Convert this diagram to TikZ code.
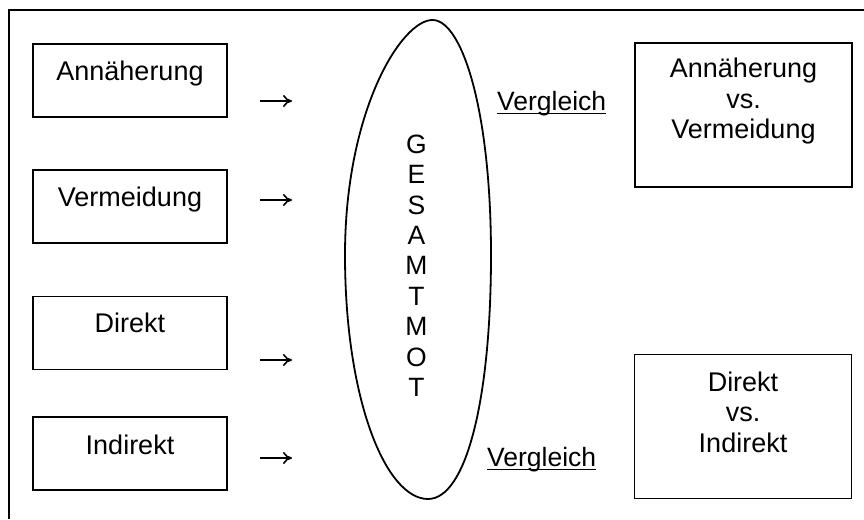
\documentclass[tikz,border=0pt]{standalone}
\usepackage{fontspec}
\setmainfont{Liberation Sans}
\usetikzlibrary{arrows.meta}
\tikzset{
  box/.style={draw=black, line width=1.6pt, minimum width=194pt, minimum height=73pt, inner sep=0pt},
  bigbox/.style={draw=black, line width=1.6pt, minimum width=217pt, minimum height=144pt, inner sep=0pt},
  lbl/.style={inner sep=0pt, anchor=north, align=center, font=\fontsize{27}{30.5}\selectfont},
  vgl/.style={inner sep=0pt, anchor=base west, font=\fontsize{26.5}{30.5}\selectfont},
  arr/.style={line width=1.6pt, -{Computer Modern Rightarrow[length=9pt,width=12pt]}},
  frame/.style={line width=2pt},
  ell/.style={line width=1.8pt}
}
\begin{document}
\begin{tikzpicture}[x=1pt,y=-1pt]
\useasboundingbox (0,0) rectangle (864,519);
% frame (top and left edges)
\coordinate (fTL) at (9,10);
\coordinate (fTR) at (864,10);
\coordinate (fBL) at (9,519);
\draw[frame] (fTR) -- (fTL) -- (fBL);

% left boxes
\node[box] (b1) at (130,80.5) {};
\node[box] (b2) at (130,206.5) {};
\node[box] (b3) at (130,333) {};
\node[box] (b4) at (130,453.5) {};
\node[lbl] (t1) at ([yshift=-18pt]b1.north) {Annäherung};
\node[lbl] (t2) at ([yshift=-18pt]b2.north) {Vermeidung};
\node[lbl] (t3) at ([yshift=-17pt]b3.north) {Direkt};
\node[lbl] (t4) at ([yshift=-19pt]b4.north) {Indirekt};

% arrows
\coordinate (a1s) at (260,101); \coordinate (a1e) at (292,101);
\coordinate (a2s) at (260,200); \coordinate (a2e) at (292,200);
\coordinate (a3s) at (260,360); \coordinate (a3e) at (292,360);
\coordinate (a4s) at (260,458); \coordinate (a4e) at (292,458);
\draw[arr] (a1s) -- (a1e);
\draw[arr] (a2s) -- (a2e);
\draw[arr] (a3s) -- (a3e);
\draw[arr] (a4s) -- (a4e);

% ellipse
\coordinate (eT) at (433,20);
\coordinate (eR) at (491,255);
\coordinate (eB) at (428,499);
\coordinate (eL) at (345,255);
\draw[ell] (eT) .. controls (462,21) and (491,110) .. (eR)
           .. controls (491,400) and (466,499) .. (eB)
           .. controls (386,499) and (345,400) .. (eL)
           .. controls (345,110) and (402,19) .. (eT) -- cycle;
\node[inner sep=0pt, align=center, font=\fontsize{26.5}{30.4}\selectfont] (gm) at (416.5,265.7)
 {G\\E\\S\\A\\M\\T\\M\\O\\T};

% comparison labels
\node[vgl] (v1) at (497,110) {Vergleich};
\node[vgl] (v2) at (487,466) {Vergleich};
\draw[line width=1.4pt] ([yshift=-3.5pt]v1.base west) -- ([yshift=-3.5pt]v1.base east);
\draw[line width=1.4pt] ([yshift=-3.5pt]v2.base west) -- ([yshift=-3.5pt]v2.base east);

% right boxes
\node[bigbox] (r1) at (743.5,115) {};
\node[bigbox] (r2) at (743,426.5) {};
\node[lbl] (rt1) at ([yshift=-16pt]r1.north) {Annäherung\\vs.\\Vermeidung};
\node[lbl] (rt2) at ([yshift=-18pt]r2.north) {Direkt\\vs.\\Indirekt};
\end{tikzpicture}
\end{document}
